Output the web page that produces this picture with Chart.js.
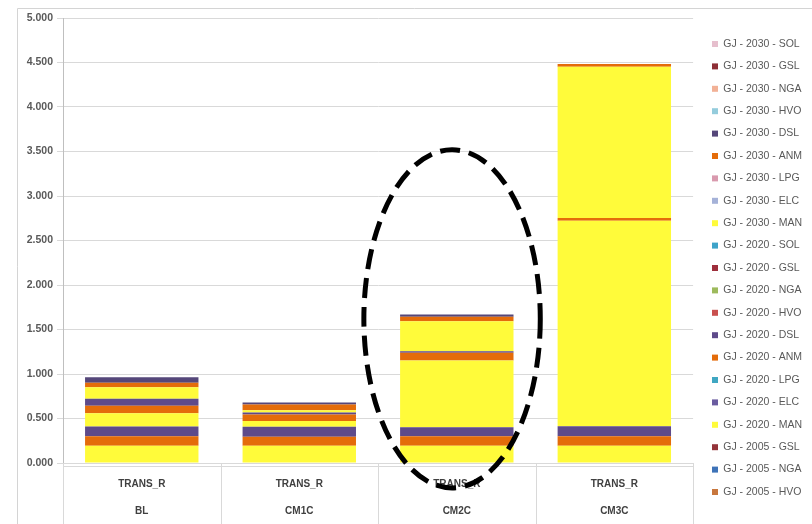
<!DOCTYPE html>
<html>
<head>
<meta charset="utf-8">
<script src="https://cdn.jsdelivr.net/npm/chart.js@4.4.1/dist/chart.umd.min.js"></script>
<style>
  html, body { margin: 0; padding: 0; background: #ffffff; }
  #wrap { width: 812px; height: 524px; position: relative; }
</style>
</head>
<body>
<div id="wrap"><canvas id="chart" width="812" height="524"></canvas></div>
<script>
// Scenarios on the category axis, each under the TRANS_R sector
const sector = 'TRANS_R';
const scenarios = ['BL', 'CM1C', 'CM2C', 'CM3C'];

// Energy use (GJ) per year and fuel, one value per scenario
const gj2005MAN = [0.195, 0.195, 0.195, 0.195];
const gj2005ANM = [0.105, 0.100, 0.105, 0.105];
const gj2005DSL = [0.110, 0.112, 0.101, 0.112];
const gj2005HVO = [0, 0, 0, 0];
const gj2005NGA = [0, 0, 0, 0];
const gj2005GSL = [0, 0, 0, 0];

const gj2020MAN = [0.150, 0.064, 0.750, 2.310];
const gj2020ELC = [0, 0, 0, 0];
const gj2020LPG = [0, 0, 0, 0];
const gj2020ANM = [0.082, 0.075, 0.087, 0.030];
const gj2020DSL = [0.079, 0.022, 0.018, 0];
const gj2020HVO = [0, 0, 0, 0];
const gj2020NGA = [0, 0, 0, 0];
const gj2020GSL = [0, 0, 0, 0];
const gj2020SOL = [0, 0, 0, 0];

const gj2030MAN = [0.130, 0.026, 0.337, 1.700];
const gj2030ELC = [0, 0, 0, 0];
const gj2030LPG = [0, 0, 0, 0];
const gj2030ANM = [0.052, 0.064, 0.050, 0.030];
const gj2030DSL = [0.060, 0.022, 0.026, 0];
const gj2030HVO = [0, 0, 0, 0];
const gj2030NGA = [0, 0, 0, 0];
const gj2030GSL = [0, 0, 0, 0];
const gj2030SOL = [0, 0, 0, 0];

// Value axis range and step
const yMin = 0;
const yMax = 5;
const yStep = 0.5;

const FONT = "'Liberation Sans', Arial, sans-serif";
const YELLOW = '#FFFB3A';
const ORANGE = '#E46C0A';
const PURPLE = '#5E4A8A';
const LEGEND_SHIFT_X = 7;
const LEGEND_SHIFT_Y = -3;

// Stack order from the bottom up; the base-year fuels listed first are kept out of the legend
const series = [
  { label: 'GJ - 2005 - MAN', data: gj2005MAN, color: YELLOW, legend: false },
  { label: 'GJ - 2005 - ANM', data: gj2005ANM, color: ORANGE, legend: false },
  { label: 'GJ - 2005 - DSL', data: gj2005DSL, color: PURPLE, legend: false },
  { label: 'GJ - 2005 - HVO', data: gj2005HVO, color: '#C8773D' },
  { label: 'GJ - 2005 - NGA', data: gj2005NGA, color: '#3E73B8' },
  { label: 'GJ - 2005 - GSL', data: gj2005GSL, color: '#94343A' },
  { label: 'GJ - 2020 - MAN', data: gj2020MAN, color: YELLOW },
  { label: 'GJ - 2020 - ELC', data: gj2020ELC, color: '#6A5CA0' },
  { label: 'GJ - 2020 - LPG', data: gj2020LPG, color: '#3FA7C2' },
  { label: 'GJ - 2020 - ANM', data: gj2020ANM, color: ORANGE },
  { label: 'GJ - 2020 - DSL', data: gj2020DSL, color: PURPLE },
  { label: 'GJ - 2020 - HVO', data: gj2020HVO, color: '#C9504E' },
  { label: 'GJ - 2020 - NGA', data: gj2020NGA, color: '#9DBA5C' },
  { label: 'GJ - 2020 - GSL', data: gj2020GSL, color: '#9E2F3C' },
  { label: 'GJ - 2020 - SOL', data: gj2020SOL, color: '#3EA3C9' },
  { label: 'GJ - 2030 - MAN', data: gj2030MAN, color: YELLOW },
  { label: 'GJ - 2030 - ELC', data: gj2030ELC, color: '#A5B2D8' },
  { label: 'GJ - 2030 - LPG', data: gj2030LPG, color: '#D99AAE' },
  { label: 'GJ - 2030 - ANM', data: gj2030ANM, color: ORANGE },
  { label: 'GJ - 2030 - DSL', data: gj2030DSL, color: '#55477A' },
  { label: 'GJ - 2030 - HVO', data: gj2030HVO, color: '#94CCDC' },
  { label: 'GJ - 2030 - NGA', data: gj2030NGA, color: '#F2B196' },
  { label: 'GJ - 2030 - GSL', data: gj2030GSL, color: '#8E2F36' },
  { label: 'GJ - 2030 - SOL', data: gj2030SOL, color: '#E6BFCD' }
];

// Thin outer frame, plus the cell dividers of the category label table
const framePlugin = {
  id: 'frame',
  afterLayout(chart) {
    if (chart.legend) {
      chart.legend.left += LEGEND_SHIFT_X;
      chart.legend.right += LEGEND_SHIFT_X;
      chart.legend.top += LEGEND_SHIFT_Y;
      chart.legend.bottom += LEGEND_SHIFT_Y;
    }
  },
  beforeDraw(chart) {
    const ctx = chart.ctx;
    ctx.save();
    ctx.strokeStyle = '#D4D4D4';
    ctx.lineWidth = 1;
    ctx.beginPath();
    ctx.moveTo(17.5, chart.height);
    ctx.lineTo(17.5, 8.5);
    ctx.lineTo(chart.width, 8.5);
    ctx.stroke();
    ctx.restore();
  },
  afterDatasetsDraw(chart) {
    const x = chart.scales.x;
    const ctx = chart.ctx;
    ctx.save();
    ctx.strokeStyle = '#D9D9D9';
    ctx.lineWidth = 1;
    ctx.beginPath();
    for (let i = 0; i <= scenarios.length; i++) {
      const px = Math.round(x.getPixelForValue(i - 0.5)) + 0.5;
      ctx.moveTo(px, chart.chartArea.bottom);
      ctx.lineTo(px, chart.height);
    }
    ctx.moveTo(chart.chartArea.left, chart.chartArea.bottom + 3.5);
    ctx.lineTo(chart.chartArea.right, chart.chartArea.bottom + 3.5);
    ctx.stroke();
    ctx.restore();
  }
};

// Dashed ellipse highlighting the CM2C scenario
const highlightPlugin = {
  id: 'highlight',
  afterDraw(chart) {
    const x = chart.scales.x, y = chart.scales.y;
    const idx = scenarios.indexOf('CM2C');
    const cx = x.getPixelForValue(idx - 0.03);
    const catW = x.getPixelForValue(1) - x.getPixelForValue(0);
    const top = y.getPixelForValue(3.52);
    const bottom = y.getPixelForValue(-0.28);
    const ctx = chart.ctx;
    ctx.save();
    ctx.strokeStyle = '#000000';
    ctx.lineWidth = 5;
    ctx.setLineDash([20, 9]);
    ctx.beginPath();
    ctx.ellipse(cx, (top + bottom) / 2, catW * 0.56, (bottom - top) / 2, 0, 0, Math.PI * 2);
    ctx.stroke();
    ctx.restore();
  }
};

new Chart(document.getElementById('chart'), {
  type: 'bar',
  data: {
    labels: scenarios.map(s => [sector, s]),
    datasets: series.map(s => ({
      label: s.label,
      data: s.data,
      backgroundColor: s.color,
      borderWidth: 0,
      inLegend: s.legend !== false,
      barPercentage: 0.72,
      categoryPercentage: 1
    }))
  },
  options: {
    responsive: false,
    animation: false,
    devicePixelRatio: 1,
    layout: { padding: { left: 18, top: 18, right: LEGEND_SHIFT_X, bottom: 0 } },
    plugins: {
      tooltip: { enabled: false },
      legend: {
        position: 'right',
        reverse: true,
        labels: {
          boxWidth: 6,
          boxHeight: 6,
          padding: 11.9,
          color: '#595959',
          font: { family: FONT, size: 10.5 },
          filter: (item, data) => data.datasets[item.datasetIndex].inLegend
        }
      }
    },
    scales: {
      x: {
        stacked: true,
        grid: { offset: true, drawOnChartArea: false, drawTicks: false, color: '#D9D9D9' },
        border: { color: '#D9D9D9' },
        ticks: {
          padding: 7.5,
          autoSkip: false,
          maxRotation: 0,
          color: '#404040',
          font: { family: FONT, size: 10, weight: 'bold', lineHeight: 2.7 }
        },
        afterFit(scale) { scale.height = 61; }
      },
      y: {
        stacked: true,
        min: yMin,
        max: yMax,
        grid: { color: '#D9D9D9', tickLength: 6 },
        border: { color: '#BFBFBF' },
        ticks: {
          stepSize: yStep,
          padding: 4,
          color: '#595959',
          font: { family: FONT, size: 10.5, weight: 'bold' },
          callback: v => Number(v).toFixed(3)
        },
        afterFit(scale) { scale.width = 45; }
      }
    }
  },
  plugins: [framePlugin, highlightPlugin]
});
</script>
</body>
</html>
